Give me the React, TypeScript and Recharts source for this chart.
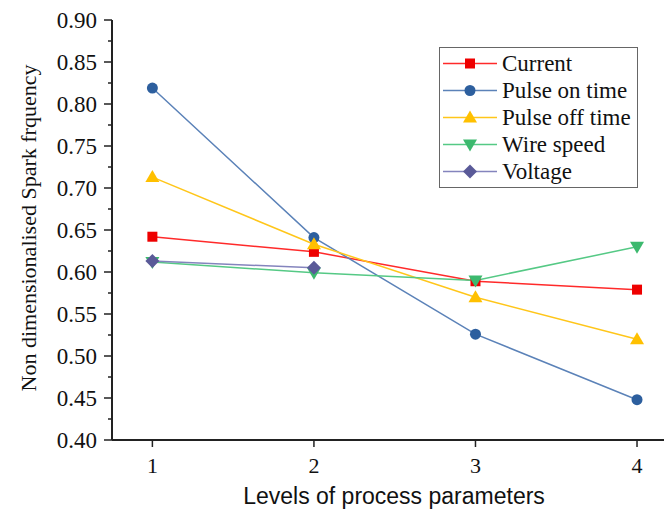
import { Line, LineChart, XAxis, YAxis } from "recharts"

const levels = [1, 2, 3, 4]
const current = [0.642, 0.624, 0.589, 0.579]
const pulseOn = [0.819, 0.641, 0.526, 0.448]
const pulseOff = [0.713, 0.633, 0.570, 0.520]
const wireSpeed = [0.612, 0.599, 0.590, 0.630]
const voltage = [0.613, 0.605, null, null]

const xTicks = [1, 2, 3, 4]
const yTicks = [0.4, 0.425, 0.45, 0.475, 0.5, 0.525, 0.55, 0.575, 0.6, 0.625, 0.65, 0.675, 0.7, 0.725, 0.75, 0.775, 0.8, 0.825, 0.85, 0.875, 0.9]
const yLabels = ["0.40", "0.45", "0.50", "0.55", "0.60", "0.65", "0.70", "0.75", "0.80", "0.85", "0.90"]

const data = levels.map((level, i) => ({
  level,
  current: current[i],
  pulseOn: pulseOn[i],
  pulseOff: pulseOff[i],
  wireSpeed: wireSpeed[i],
  voltage: voltage[i],
}))

const serif = "Liberation Serif"
const sans = "Liberation Sans"

const series = [
  { key: "current", name: "Current", line: "#ff2a2a", fill: "#ee0000", shape: "square" },
  { key: "pulseOn", name: "Pulse on time", line: "#5b82b8", fill: "#2d5f9e", shape: "circle" },
  { key: "pulseOff", name: "Pulse off time", line: "#ffc61a", fill: "#ffc000", shape: "up" },
  { key: "wireSpeed", name: "Wire speed", line: "#55c985", fill: "#3cb96e", shape: "down" },
  { key: "voltage", name: "Voltage", line: "#8484bd", fill: "#5a5a98", shape: "diamond" },
]

function Marker({ cx, cy, shape, fill }: { cx: number; cy: number; shape: string; fill: string }) {
  if (shape === "square") return <rect x={cx - 5} y={cy - 5} width={10} height={10} fill={fill} />
  if (shape === "circle") return <circle cx={cx} cy={cy} r={5.5} fill={fill} />
  if (shape === "up") return <polygon points={`${cx},${cy - 7} ${cx + 7},${cy + 5} ${cx - 7},${cy + 5}`} fill={fill} />
  if (shape === "down") return <polygon points={`${cx},${cy + 7} ${cx + 7},${cy - 5} ${cx - 7},${cy - 5}`} fill={fill} />
  return <polygon points={`${cx},${cy - 7} ${cx + 7},${cy} ${cx},${cy + 7} ${cx - 7},${cy}`} fill={fill} />
}

function YTick(props: any) {
  const { x, y, payload } = props
  const axisX = x + 12
  const label = payload.value.toFixed(2)
  const major = yLabels.includes(label) && Math.round(payload.value * 1000) % 50 === 0
  return (
    <g>
      <line x1={axisX - (major ? 8 : 4)} x2={axisX} y1={y} y2={y} stroke="#222" strokeWidth={1.5} />
      {major && (
        <text x={axisX - 15} y={y} dy="0.35em" textAnchor="end" fontSize={23} fill="#111" fontFamily={serif}>
          {label}
        </text>
      )}
    </g>
  )
}

function XTick(props: any) {
  const { x, y, payload } = props
  return (
    <text x={x} y={y + 26} textAnchor="middle" fontSize={22} fill="#111" fontFamily={serif}>
      {payload.value}
    </text>
  )
}

function LegendBox() {
  return (
    <div
      style={{
        position: "absolute",
        left: 439,
        top: 47,
        width: 197,
        height: 137,
        border: "1px solid #666",
        background: "#fff",
        paddingTop: 2,
        boxSizing: "content-box",
      }}
    >
      {series.map((s) => (
        <div key={s.key} style={{ display: "flex", alignItems: "center", height: 27 }}>
          <svg width={60} height={27}>
            <line x1={3} x2={57} y1={13.5} y2={13.5} stroke={s.line} strokeWidth={1.5} />
            <Marker cx={30} cy={13.5} shape={s.shape} fill={s.fill} />
          </svg>
          <span style={{ fontFamily: serif, fontSize: 23, color: "#111", marginLeft: 2, lineHeight: "27px", whiteSpace: "nowrap" }}>
            {s.name}
          </span>
        </div>
      ))}
    </div>
  )
}

export default function App() {
  return (
    <div style={{ position: "absolute", left: 0, top: 0, width: 665, height: 511, background: "#fff" }}>
      <LineChart width={665} height={511} data={data} margin={{ top: 20, right: 1, bottom: 0, left: 42 }}>
        <XAxis
          xAxisId="top"
          orientation="top"
          dataKey="level"
          type="number"
          domain={[0.75, 4.167]}
          height={0}
          tick={false}
          tickLine={false}
          axisLine={{ stroke: "#222", strokeWidth: 2 }}
          allowDataOverflow
        />
        <XAxis
          dataKey="level"
          type="number"
          domain={[0.75, 4.167]}
          ticks={xTicks}
          height={71}
          tickSize={7}
          tickMargin={0}
          tickLine={{ stroke: "#222", strokeWidth: 1.5 }}
          axisLine={{ stroke: "#222", strokeWidth: 2 }}
          tick={<XTick />}
          allowDataOverflow
          label={{
            content: () => (
              <text x={394} y={504} textAnchor="middle" fontSize={23} fill="#111" fontFamily={sans}>
                Levels of process parameters
              </text>
            ),
          }}
        />
        <YAxis
          type="number"
          domain={[0.4, 0.9]}
          ticks={yTicks}
          interval={0}
          width={70}
          tickSize={8}
          tickMargin={4}
          tickLine={false}
          axisLine={{ stroke: "#222", strokeWidth: 2 }}
          tick={<YTick />}
          label={{
            content: () => (
              <text x={36} y={228} transform="rotate(-90 36 228)" textAnchor="middle" fontSize={22} fill="#111" fontFamily={serif}>
                Non dimensionalised Spark frquency
              </text>
            ),
          }}
        />
        {series.map((s) => (
          <Line
            key={s.key}
            dataKey={s.key}
            name={s.name}
            stroke={s.line}
            strokeWidth={1.5}
            isAnimationActive={false}
            connectNulls={false}
            dot={(p: any) =>
              p.cx == null || p.cy == null || p.value == null ? (
                <g key={`${s.key}-${p.index}`} />
              ) : (
                <Marker key={`${s.key}-${p.index}`} cx={p.cx} cy={p.cy} shape={s.shape} fill={s.fill} />
              )
            }
            activeDot={false}
          />
        ))}
      </LineChart>
      <LegendBox />
    </div>
  )
}
